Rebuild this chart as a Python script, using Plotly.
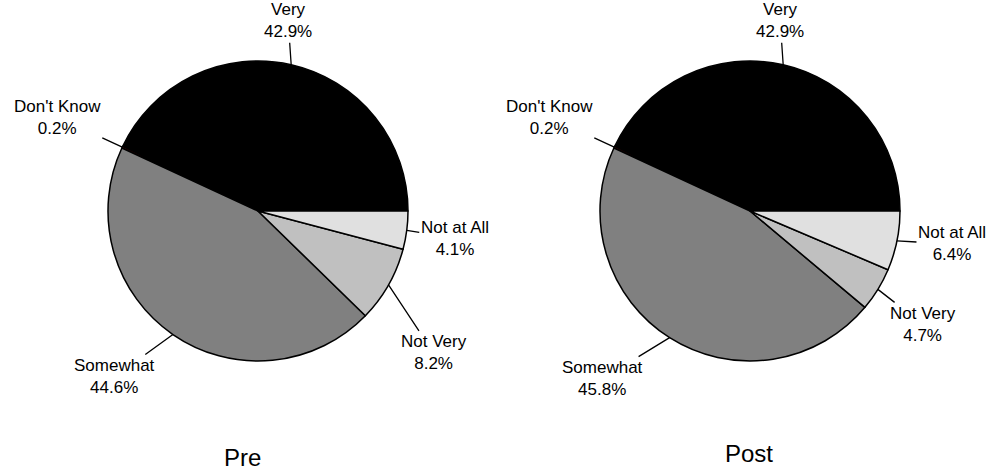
import math
import plotly.graph_objects as go

# ---- data ----
categories = ["Very", "Don't Know", "Somewhat", "Not Very", "Not at All"]
pre_values = [42.9, 0.2, 44.6, 8.2, 4.1]
post_values = [42.9, 0.2, 45.8, 4.7, 6.4]
chart_titles = ["Pre", "Post"]

# ---- styling / layout ----
W, H = 989, 472
colors = ["#000000", "#800000", "#808080", "#C0C0C0", "#E0E0E0"]
FONT = "Liberation Sans, Arial, sans-serif"
R = 150
centers = [(258, 211), (750, 211)]
# label text offsets (pixels, relative to the slice edge point)
offsets = [
    [(-3, -44), (-65, -30), (-58, 42), (45, 68), (48, 8)],
    [(-3, -44), (-65, -30), (-67, 41), (45, 35), (55, 3)],
]
title_pos = [(242, 457), (749, 453)]

fig = go.Figure()
annotations = []
for k, vals in enumerate([pre_values, post_values]):
    cx, cy = centers[k]
    total = sum(vals)
    # plotly ccw: first slice spans clockwise from `rotation`; make it start at 3 o'clock
    rot = 90 - 360 * vals[0] / total
    fig.add_trace(go.Pie(
        labels=categories, values=vals, sort=False,
        direction="counterclockwise", rotation=rot,
        marker=dict(colors=colors, line=dict(color="black", width=1.5)),
        textinfo="none", hoverinfo="label+percent", showlegend=False,
        domain=dict(x=[(cx - R) / W, (cx + R) / W],
                    y=[1 - (cy + R) / H, 1 - (cy - R) / H]),
    ))
    cum = 0.0
    for i, (lab, v) in enumerate(zip(categories, vals)):
        mid = (cum + v / 2) / total * 2 * math.pi
        cum += v
        px = cx + R * math.cos(mid)
        py = cy - R * math.sin(mid)
        ax, ay = offsets[k][i]
        annotations.append(dict(
            x=px / W, y=1 - py / H, xref="paper", yref="paper",
            text=f"{lab}<br>{v:.1f}%", showarrow=True, arrowhead=0,
            arrowwidth=1.3, arrowcolor="black", standoff=0,
            ax=ax, ay=ay, font=dict(family=FONT, size=17, color="black"),
            align="center",
        ))
    tx, ty = title_pos[k]
    annotations.append(dict(
        x=tx / W, y=1 - ty / H, xref="paper", yref="paper",
        xanchor="center", yanchor="middle",
        text=chart_titles[k], showarrow=False,
        font=dict(family=FONT, size=24, color="black"),
    ))

fig.update_layout(
    width=W, height=H, margin=dict(l=0, r=0, t=0, b=0),
    paper_bgcolor="white", plot_bgcolor="white",
    annotations=annotations,
)
fig.write_html("out.html")
